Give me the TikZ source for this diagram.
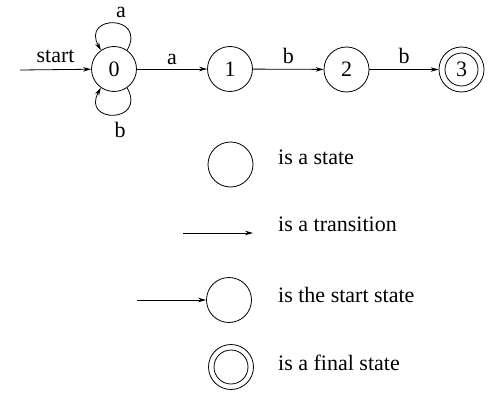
\documentclass[tikz,border=0pt]{standalone}
\usepackage{fontspec}
\setmainfont{Liberation Serif}
\usetikzlibrary{arrows.meta}
\begin{document}
\begin{tikzpicture}[x=1pt,y=-1pt,
  txt/.style={font=\fontsize{22}{25}\selectfont},
  state/.style={circle,draw,line width=0.8pt,minimum size=45pt,inner sep=0pt,txt},
  lbl/.style={txt,inner sep=0pt,anchor=base},
  legtext/.style={txt,inner sep=0pt,anchor=base west},
  tr/.style={line width=0.8pt,-{Stealth[length=8pt,width=4.5pt]}},
]
\useasboundingbox (0,0) rectangle (493,396);
% automaton
\node[state] (s0) at (114,69) {0};
\node[state] (s1) at (230,69) {1};
\node[state] (s2) at (346.5,69.5) {2};
\node[state] (s3) at (461.5,69.5) {3};
\draw[line width=0.8pt] (s3.center) circle[radius=16.5];
\coordinate (st) at (20,70);
\draw[tr] (st) -- (s0) node[lbl,midway,yshift=7pt] {start};
\draw[tr] (s0.55) .. controls +(20,-36) and +(-20,-36) .. (s0.125)
  node[lbl,midway,xshift=7pt,yshift=6pt] {a};
\draw[tr] (s0.-55) .. controls +(20,36) and +(-20,36) .. (s0.-125)
  node[lbl,midway,xshift=6pt,yshift=-23pt] {b};
\draw[tr] (s0) -- (s1) node[lbl,midway,yshift=4pt] {a};
\draw[tr] (s1) -- (s2) node[lbl,midway,yshift=6pt] {b};
\draw[tr] (s2) -- (s3) node[lbl,midway,yshift=6pt] {b};
% legend
\node[state] (l1) at (230.5,164.5) {};
\node[legtext] (t1) at (278,164) {is a state};
\coordinate (a1) at (183,233);
\coordinate (a2) at (253,233);
\draw[tr] (a1) -- (a2);
\node[legtext] (t2) at (278,231) {is a transition};
\node[state] (l3) at (229,300) {};
\coordinate (a3) at (137,300);
\draw[tr] (a3) -- (l3);
\node[legtext] (t3) at (278,302) {is the start state};
\node[state] (l4) at (231,367) {};
\draw[line width=0.8pt] (l4.center) circle[radius=17];
\node[legtext] (t4) at (278,370) {is a final state};
\end{tikzpicture}
\end{document}
